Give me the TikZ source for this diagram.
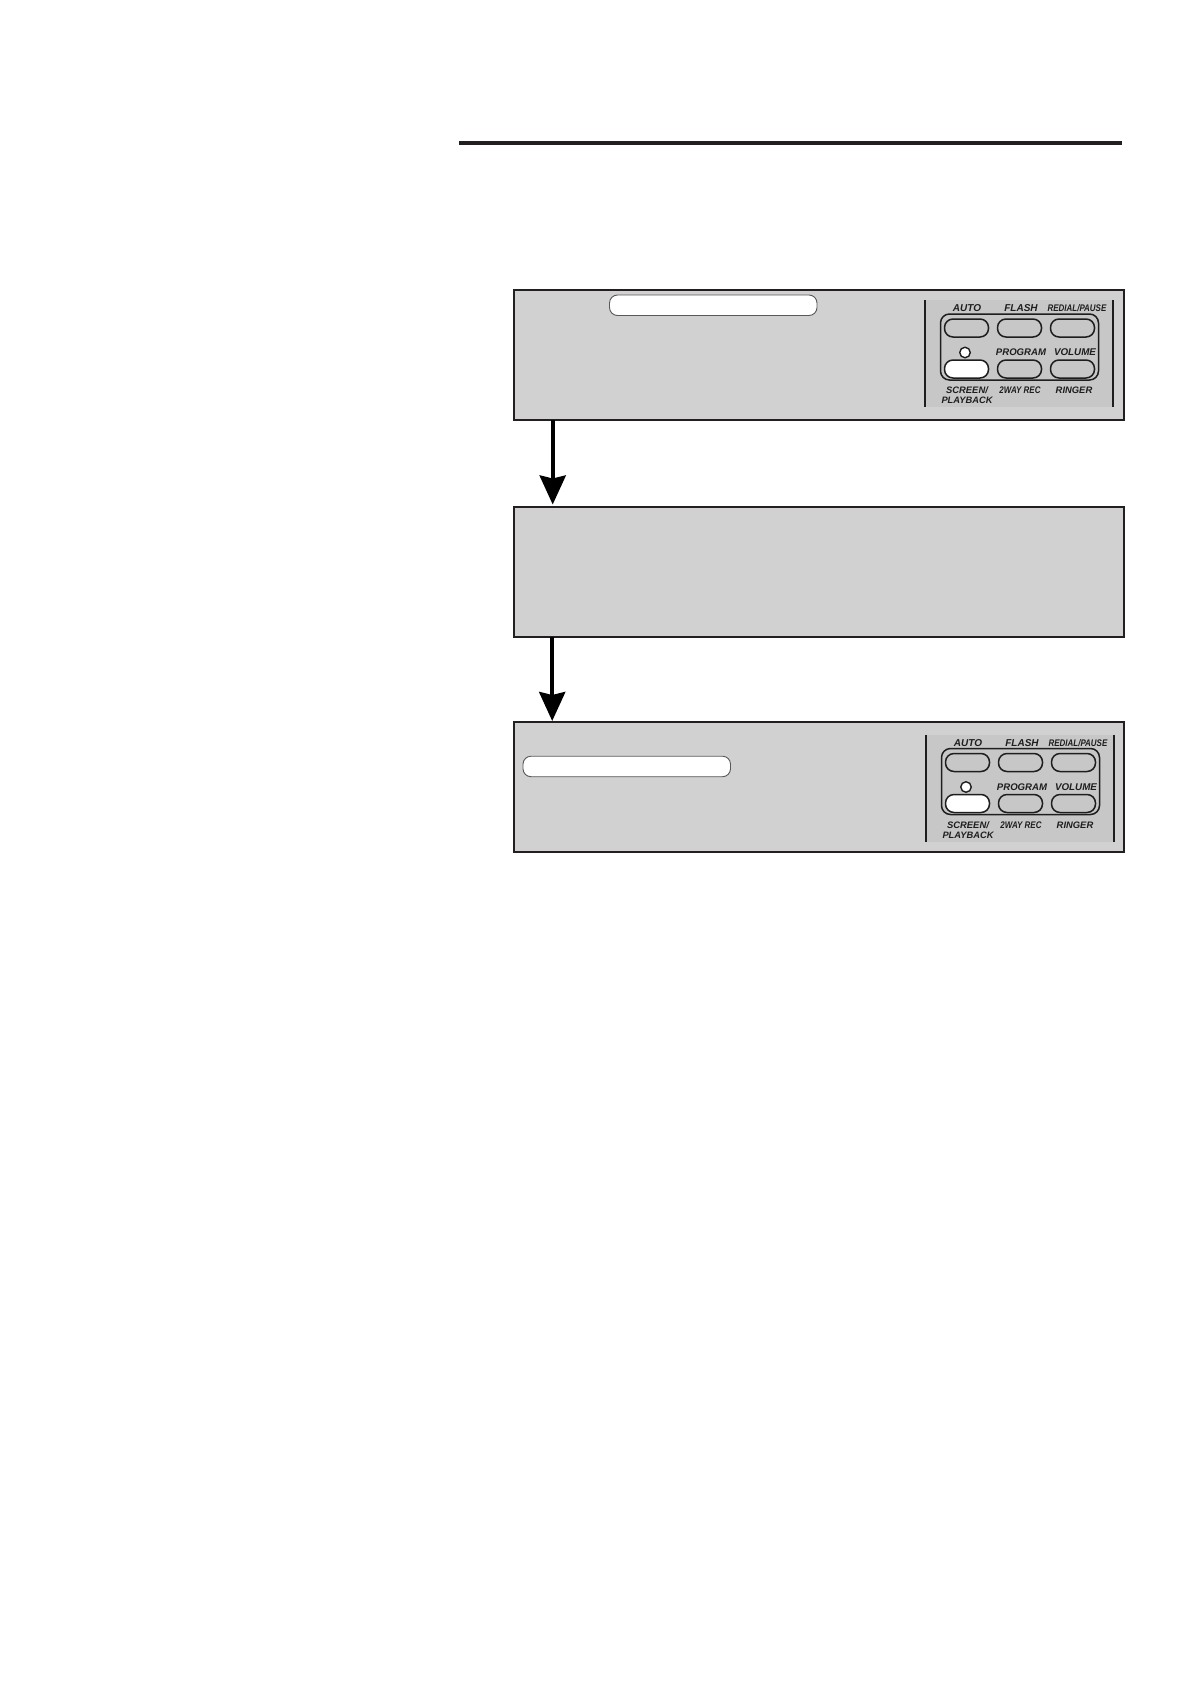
\documentclass[tikz,border=0pt]{standalone}
\usepackage{graphicx}
\usepackage{fontspec}
\setmainfont{Liberation Sans}
\usetikzlibrary{arrows.meta}
\definecolor{boxgrey}{RGB}{209,209,209}
\definecolor{panelgrey}{RGB}{199,199,199}
\definecolor{inkblack}{RGB}{35,31,32}
\definecolor{printink}{RGB}{30,30,30}
\tikzset{
  stepbox/.style={draw=inkblack,line width=2.4pt,fill=boxgrey,rectangle,minimum width=610pt,minimum height=130pt,inner sep=0pt,outer sep=0pt,anchor=north west},
  pillbox/.style={draw=inkblack!75,line width=0.9pt,fill=white,rectangle,rounded corners=8pt,minimum width=207.5pt,minimum height=20.5pt,inner sep=0pt,outer sep=0pt,anchor=north west},
  flowarrow/.style={draw=black,line width=4pt,-{Stealth[length=29pt,width=26pt,inset=3pt]},shorten >=2.5pt},
  keybtn/.style={draw=printink,line width=1.5pt,fill=panelgrey,rectangle,rounded corners=8.5pt,minimum width=44pt,minimum height=18pt,inner sep=0pt},
  keylit/.style={keybtn,fill=white},
  keyframe/.style={draw=printink,line width=1.5pt,fill=panelgrey,rectangle,rounded corners=9pt,minimum width=158pt,minimum height=66pt,inner sep=0pt},
  keyback/.style={fill=panelgrey,draw=none,rectangle,minimum width=188pt,minimum height=107pt,inner sep=0pt},
  keybar/.style={draw=printink,line width=2pt},
  keyled/.style={draw=printink,line width=1.4pt,fill=white,circle,minimum size=10.5pt,inner sep=0pt},
  keytext/.style={text=printink,inner sep=0pt,font=\bfseries\itshape\fontsize{#1}{#1}\selectfont},
}
\newcommand{\keypanel}[3]{%
  \begin{scope}[shift={(#2,#3)}]
    \node[keyback] (#1bg) at (1019,353.5) {};
    \coordinate (#1la) at (925,300); \coordinate (#1lb) at (925,407);
    \coordinate (#1ra) at (1113,300); \coordinate (#1rb) at (1113,407);
    \draw[keybar] (#1la) -- (#1lb);
    \draw[keybar] (#1ra) -- (#1rb);
    \node[keyframe] (#1frame) at (1019.5,347) {};
    \node[keybtn] (#1b1) at (966.5,328) {};
    \node[keybtn] (#1b2) at (1019.5,328) {};
    \node[keybtn] (#1b3) at (1072.5,328) {};
    \node[keylit] (#1b4) at (966.5,369) {};
    \node[keybtn] (#1b5) at (1019.5,369) {};
    \node[keybtn] (#1b6) at (1072.5,369) {};
    \node[keyled] (#1led) at (965,352.5) {};
    \node[keytext=10] (#1t1) at (967,308.5) {AUTO};
    \node[keytext=10] (#1t2) at (1021,308.5) {FLASH};
    \node[keytext=9.6] (#1t3) at (1077,308.5) {\scalebox{0.83}[1]{REDIAL/PAUSE}};
    \node[keytext=9.6] (#1t4) at (1021,352.5) {PROGRAM};
    \node[keytext=9.8] (#1t5) at (1075,352.5) {VOLUME};
    \node[keytext=9.4] (#1t6) at (967,390.5) {SCREEN/};
    \node[keytext=9.3] (#1t7) at (967,400.5) {PLAYBACK};
    \node[keytext=9.6] (#1t8) at (1020,390.5) {\scalebox{0.83}[1]{2WAY REC}};
    \node[keytext=9.4] (#1t9) at (1074,390.5) {RINGER};
  \end{scope}}
\begin{document}
\begin{tikzpicture}[x=1pt,y=-1pt]
  \useasboundingbox (0,0) rectangle (1190,1684);
  \fill[white] (0,0) rectangle (1190,1684);
  \coordinate (ruleL) at (459,143);
  \coordinate (ruleR) at (1122,143);
  \draw[inkblack,line width=4.4pt] (ruleL) -- (ruleR);

  \node[stepbox] (s1) at (514,290) {};
  \node[stepbox] (s2) at (514,507) {};
  \node[stepbox] (s3) at (514,722) {};

  \node[pillbox] (p1) at (609.5,295) {};
  \node[pillbox] (p2) at (523,756.2) {};

  \keypanel{k1}{0}{0}
  \keypanel{k3}{1}{434.5}

  \coordinate (a1) at (552.7,0);
  \coordinate (a2) at (552.2,0);
  \draw[flowarrow] (s1.south -| a1) -- (s2.north -| a1);
  \draw[flowarrow,shorten >=1pt] (s2.south -| a2) -- (s3.north -| a2);
\end{tikzpicture}
\end{document}
